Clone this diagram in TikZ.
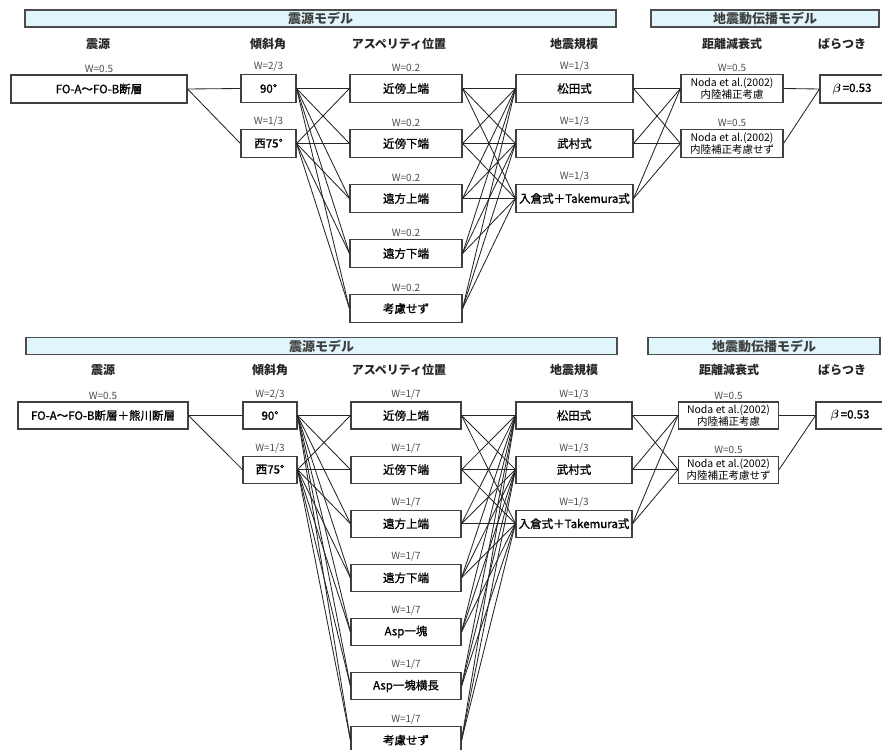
\documentclass[tikz,border=0pt]{standalone}
\usepackage{bm}
\usepackage{fontspec}
\setmainfont{Noto Sans CJK JP}
\newfontfamily\medfont[FakeBold=1.2]{Noto Sans CJK JP}
\begin{document}
\begin{tikzpicture}[x=1pt,y=-1pt,
  bx/.style={draw=black!75, line width=1.1pt, fill=white, inner sep=0pt, align=center,
    font=\fontsize{11.5}{12}\medfont},
  nb/.style={bx, font=\fontsize{10.5}{11.5}\selectfont},
  wl/.style={font=\fontsize{10}{10}\selectfont, text=black!70, inner sep=0pt},
  hd/.style={font=\fontsize{12}{12}\selectfont\bfseries, inner sep=0pt, text=black!85},
  bar/.style={draw=black!70, line width=1.3pt, fill={rgb,255:red,224;green,246;blue,252}, inner sep=0pt,
    font=\fontsize{13}{13}\selectfont\bfseries, text=black!75},
  ln/.style={draw=black!85, line width=0.85pt},
  wlab/.style={label={[wl,label distance=2pt]above:{#1}}}]
\clip (0,0) rectangle (882,749);
\useasboundingbox (0,0) rectangle (882,749);

% ================= TOP PANEL =================
\node[bar, minimum width=591pt, minimum height=17pt] (h1) at (320.5,18.5) {震源モデル};
\node[bar, minimum width=228pt, minimum height=17pt] (h2) at (765,18.5) {地震動伝播モデル};

\node[hd] (c1) at (98,44) {震源};
\node[hd] (c2) at (268,44) {傾斜角};
\node[hd] (c3) at (399,44) {アスペリティ位置};
\node[hd] (c4) at (574,44) {地震規模};
\node[hd] (c5) at (732,44) {距離減衰式};
\node[hd] (c6) at (842,44) {ばらつき};

\node[bx, minimum width=176pt, minimum height=28pt, wlab={W=0.5}] (s1) at (99,89) {FO-A～FO-B断層};

\node[bx, minimum width=55pt, minimum height=28pt, wlab={W=2/3}] (d1) at (268.5,88.5) {90°};
\node[bx, minimum width=55pt, minimum height=28pt, wlab={W=1/3}] (d2) at (268.5,143.5) {西75°};

\foreach \t [count=\i] in {近傍上端,近傍下端,遠方上端,遠方下端,考慮せず}
  \node[bx, minimum width=112pt, minimum height=28pt, wlab={W=0.2}] (a\i) at (406,{88.5+55*(\i-1)}) {\t};

\foreach \t [count=\i] in {松田式,武村式,入倉式＋Takemura式}
  \node[bx, minimum width=117pt, minimum height=28pt, wlab={W=1/3}] (m\i) at (574.5,{88.5+55*(\i-1)}) {\t};

\node[nb, minimum width=102pt, minimum height=28pt, wlab={W=0.5}] (n1) at (732,88.5) {Noda et al.(2002)\\内陸補正考慮};
\node[nb, minimum width=102pt, minimum height=28pt, wlab={W=0.5}] (n2) at (732,143.5) {Noda et al.(2002)\\内陸補正考慮せず};

\node[bx, minimum width=70pt, minimum height=28pt] (b1) at (855,89) {\hspace*{-6pt}$\bm{\beta}$\,=0.53};

\foreach \d in {d1,d2} \draw[ln] (s1.east) -- (\d.west);
\foreach \d in {d1,d2} \foreach \a in {1,...,5} \draw[ln] (\d.east) -- (a\a.west);
\foreach \a in {1,...,5} \foreach \m in {1,2,3} \draw[ln] (a\a.east) -- (m\m.west);
\foreach \m in {1,2,3} \foreach \n in {n1,n2} \draw[ln] (m\m.east) -- (\n.west);
\foreach \n in {n1,n2} \draw[ln] (\n.east) -- (b1.west);

% ================= BOTTOM PANEL =================
\node[bar, minimum width=591pt, minimum height=17pt] (h3) at (321.5,346) {震源モデル};
\node[bar, minimum width=232pt, minimum height=17pt] (h4) at (764,346) {地震動伝播モデル};

\node[hd] (e1) at (103,370) {震源};
\node[hd] (e2) at (270,370) {傾斜角};
\node[hd] (e3) at (399,370) {アスペリティ位置};
\node[hd] (e4) at (574,370) {地震規模};
\node[hd] (e5) at (729,370) {距離減衰式};
\node[hd] (e6) at (842,370) {ばらつき};

\node[bx, minimum width=170pt, minimum height=27pt, wlab={W=0.5}] (s2) at (103,415.5) {FO-A～FO-B断層＋熊川断層};

\node[bx, minimum width=54pt, minimum height=27pt, wlab={W=2/3}] (f1) at (270,415.5) {90°};
\node[bx, minimum width=54pt, minimum height=27pt, wlab={W=1/3}] (f2) at (270,469.6) {西75°};

\foreach \t [count=\i] in {近傍上端,近傍下端,遠方上端,遠方下端,Asp一塊,Asp一塊横長,考慮せず}
  \node[bx, minimum width=110pt, minimum height=27pt, wlab={W=1/7}] (p\i) at (406,{415.5+54.1*(\i-1)}) {\t};

\foreach \t [count=\i] in {松田式,武村式,入倉式＋Takemura式}
  \node[bx, minimum width=116pt, minimum height=27pt, wlab={W=1/3}] (q\i) at (574,{415.5+54.1*(\i-1)}) {\t};

\node[nb, minimum width=100pt, minimum height=27pt, wlab={W=0.5}] (r1) at (728.5,415.5) {Noda et al.(2002)\\内陸補正考慮};
\node[nb, minimum width=100pt, minimum height=27pt, wlab={W=0.5}] (r2) at (728.5,469.6) {Noda et al.(2002)\\内陸補正考慮せず};

\node[bx, minimum width=74pt, minimum height=27pt] (b2) at (853,415.5) {\hspace*{-6pt}$\bm{\beta}$\,=0.53};

\foreach \d in {f1,f2} \draw[ln] (s2.east) -- (\d.west);
\foreach \d in {f1,f2} \foreach \a in {1,...,7} \draw[ln] (\d.east) -- (p\a.west);
\foreach \a in {1,...,7} \foreach \m in {1,2,3} \draw[ln] (p\a.east) -- (q\m.west);
\foreach \m in {1,2,3} \foreach \n in {r1,r2} \draw[ln] (q\m.east) -- (\n.west);
\foreach \n in {r1,r2} \draw[ln] (\n.east) -- (b2.west);
\end{tikzpicture}
\end{document}
